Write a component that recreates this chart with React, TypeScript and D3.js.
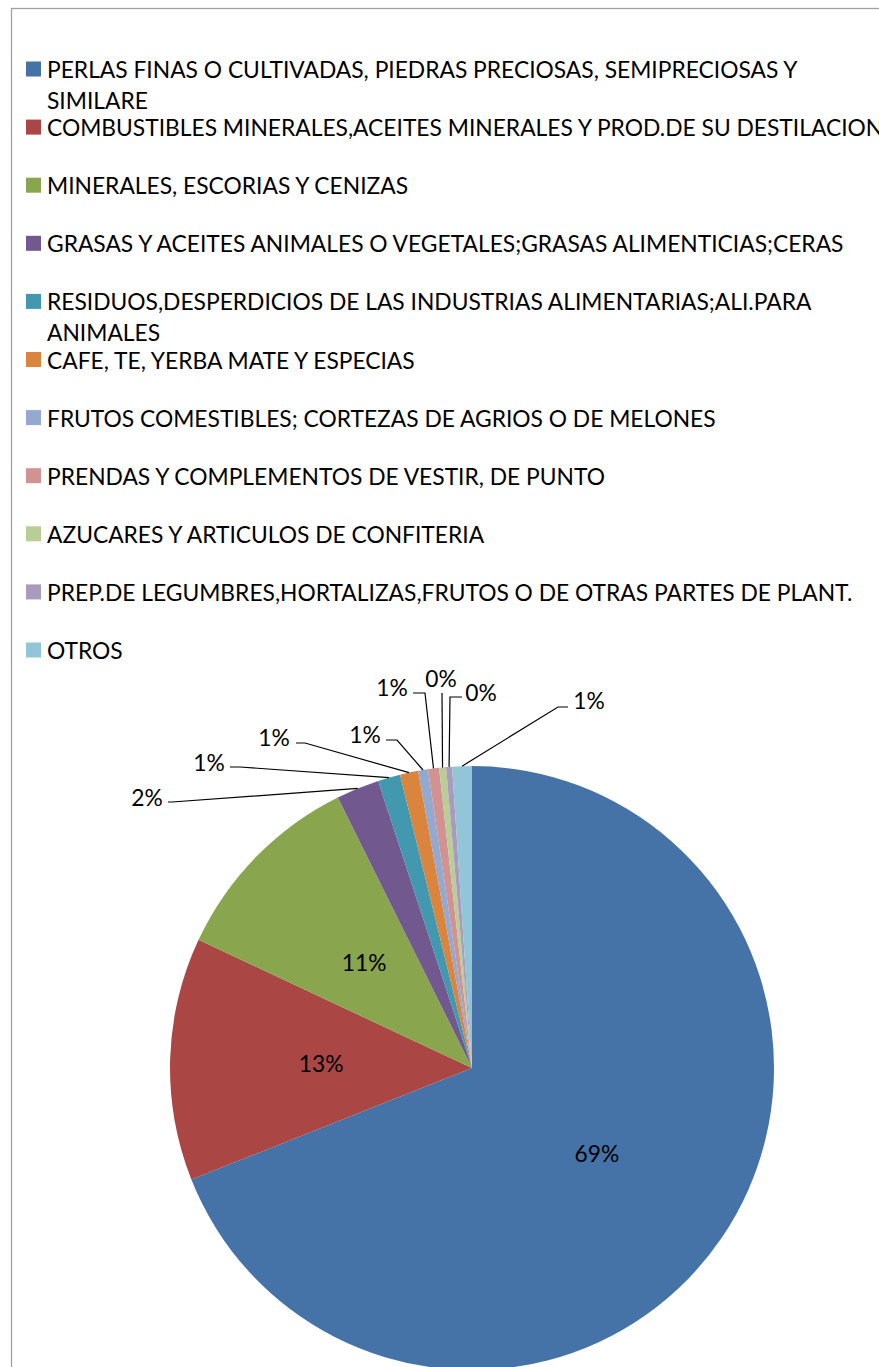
import React from "react";
import * as d3 from "d3";

const categories: string[] = [
  "PERLAS FINAS O CULTIVADAS, PIEDRAS PRECIOSAS, SEMIPRECIOSAS Y\nSIMILARE",
  "COMBUSTIBLES MINERALES,ACEITES MINERALES Y PROD.DE SU DESTILACION",
  "MINERALES, ESCORIAS Y CENIZAS",
  "GRASAS Y ACEITES ANIMALES O VEGETALES;GRASAS ALIMENTICIAS;CERAS",
  "RESIDUOS,DESPERDICIOS DE LAS INDUSTRIAS ALIMENTARIAS;ALI.PARA\nANIMALES",
  "CAFE, TE, YERBA MATE Y ESPECIAS",
  "FRUTOS COMESTIBLES; CORTEZAS DE AGRIOS O DE MELONES",
  "PRENDAS Y COMPLEMENTOS DE VESTIR, DE PUNTO",
  "AZUCARES Y ARTICULOS DE CONFITERIA",
  "PREP.DE LEGUMBRES,HORTALIZAS,FRUTOS O DE OTRAS PARTES DE PLANT.",
  "OTROS",
];

const values: number[] = [69.0, 13.0, 10.7, 2.3, 1.2, 0.97, 0.53, 0.59, 0.37, 0.32, 1.05];

const colors: string[] = [
  "#4572A7", "#AA4643", "#89A54E", "#71588F", "#4198AF", "#DB843D",
  "#93A9CF", "#D19392", "#B9CD96", "#A99BBD", "#92C5D7",
];

// outside label layout: text centre, leader start, elbow x
const outsideLabels: { i: number; tx: number; ty: number; lx: number; ly: number; bx: number }[] = [
  { i: 3, tx: 147, ty: 797, lx: 168, ly: 802, bx: 172 },
  { i: 4, tx: 209, ty: 762, lx: 230, ly: 767, bx: 240 },
  { i: 5, tx: 274, ty: 737, lx: 296, ly: 743, bx: 305 },
  { i: 6, tx: 365, ty: 734, lx: 386, ly: 740, bx: 397 },
  { i: 7, tx: 392, ty: 687, lx: 413, ly: 693, bx: 425 },
  { i: 8, tx: 441, ty: 678, lx: 442, ly: 693, bx: 442 },
  { i: 9, tx: 481, ty: 692, lx: 462, ly: 697, bx: 450 },
  { i: 10, tx: 589, ty: 700, lx: 568, ly: 707, bx: 558 },
];

const W = 879;
const H = 1367;
const FONT = "Lato, 'Open Sans', sans-serif";
const FS = 22.8;

export default function App() {
  const cx = 472;
  const cy = 1068;
  const R = 302;
  const total = d3.sum(values);
  const pie = d3.pie<number>().sort(null).value((d) => d)(values);
  const arc = d3.arc<d3.PieArcDatum<number>>().innerRadius(0).outerRadius(R);
  const fmt = d3.format(".0%");
  const pt = (a: number, r: number) => [cx + r * Math.sin(a), cy - r * Math.cos(a)];

  const legendX = 26;
  const legendY0 = 69;
  const legendStep = 58.1;
  const lineH = 31;

  return (
    <svg width={W} height={H} style={{ position: "absolute", left: 0, top: 0, background: "#fff" }}>
      <rect x={11.5} y={8.5} width={W + 20} height={H + 20} fill="#fff" stroke="#a0a0a0" strokeWidth={1.3} />
      <g>
        {categories.map((c, i) => {
          const y = legendY0 + legendStep * i;
          const lines = c.split("\n");
          return (
            <g key={i}>
              <rect x={legendX} y={y - 7.5} width={15} height={15} fill={colors[i]} />
              {lines.map((ln, j) => (
                <text
                  key={j}
                  x={47}
                  y={y + j * lineH}
                  dominantBaseline="central"
                  fontFamily={FONT}
                  fontSize={FS}
                  fill="#000"
                >
                  {ln}
                </text>
              ))}
            </g>
          );
        })}
      </g>
      <g>
        {pie.map((p, i) => (
          <path key={i} d={arc(p) || ""} transform={`translate(${cx},${cy})`} fill={colors[i]} />
        ))}
      </g>
      <g fontFamily={FONT} fontSize={FS} fill="#000">
        {pie.slice(0, 3).map((p, i) => {
          const a = (p.startAngle + p.endAngle) / 2;
          const [x, y] = pt(a, R * 0.5);
          return (
            <text key={i} x={x} y={y} textAnchor="middle" dominantBaseline="central">
              {fmt(p.value / total)}
            </text>
          );
        })}
        {outsideLabels.map((l) => {
          const p = pie[l.i];
          const a = (p.startAngle + p.endAngle) / 2;
          const [ax, ay] = pt(a, R);
          return (
            <g key={l.i}>
              <polyline
                points={`${l.lx},${l.ly} ${l.bx},${l.ly} ${ax},${ay}`}
                fill="none"
                stroke="#000"
                strokeWidth={1.2}
              />
              <text x={l.tx} y={l.ty} textAnchor="middle" dominantBaseline="central">
                {fmt(p.value / total)}
              </text>
            </g>
          );
        })}
      </g>
    </svg>
  );
}
